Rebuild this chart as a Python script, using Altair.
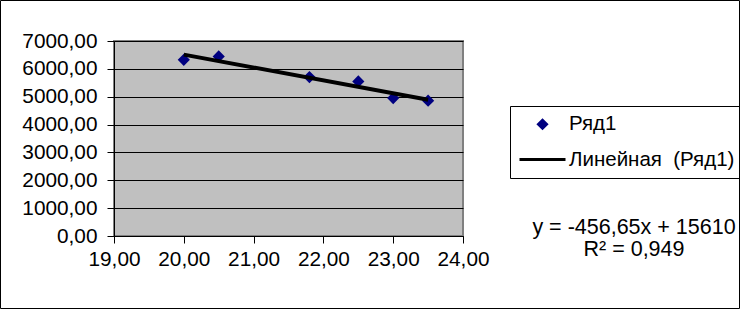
import altair as alt
import pandas as pd

# ---- data ----
x_vals = [20.00, 20.50, 21.80, 22.50, 23.00, 23.50]
y_vals = [6326, 6444, 5706, 5548, 4953, 4857]
series_point = "Ряд1"
series_trend = "Линейная\u00a0 (Ряд1)"
x_ticks = [19, 20, 21, 22, 23, 24]
y_ticks = [0, 1000, 2000, 3000, 4000, 5000, 6000, 7000]
equation_lines = ["y = -456,65x + 15610", "R² = 0,949"]

FONT = "Liberation Sans"
W, H = 349, 195
PAD_L, PAD_T = 114, 41

df = pd.DataFrame({"x": x_vals, "y": y_vals, "series": [series_point] * len(x_vals)})
domain = [series_point, series_trend]

xscale = alt.Scale(domain=[19, 24], nice=False, zero=False)
yscale = alt.Scale(domain=[0, 7000], nice=False)

lab = "replace(format(datum.value, '.2f'), '.', ',')"

xaxis = alt.Axis(values=x_ticks, labelExpr=lab, title=None, grid=False, labelOverlap=False,
                 labelFlush=False, tickSize=7, labelPadding=6,
                 domainColor="black", tickColor="black")
yaxis = alt.Axis(values=y_ticks, labelExpr=lab, title=None, grid=True, labelOverlap=False,
                 labelFlush=False, gridColor="black", gridWidth=1, tickSize=7, labelPadding=10,
                 domainColor="black", tickColor="black")

legend = alt.Legend(title=None, orient="none", legendX=396, legendY=65,
                    strokeColor="black", padding=8, labelFontSize=20.5, labelLimit=400,
                    labelFont=FONT, labelColor="black", labelOffset=2,
                    symbolStrokeWidth=3, rowPadding=-2, symbolOpacity=1)

points = alt.Chart(df).mark_point(filled=True, strokeWidth=3, opacity=1).encode(
    x=alt.X("x:Q", scale=xscale, axis=xaxis),
    y=alt.Y("y:Q", scale=yscale, axis=yaxis),
    fill=alt.Fill("series:N", scale=alt.Scale(domain=domain, range=["#000080", "black"]), legend=legend),
    stroke=alt.Stroke("series:N", scale=alt.Scale(domain=domain, range=["#000080", "black"]), legend=legend),
    shape=alt.Shape("series:N", scale=alt.Scale(domain=domain, range=["diamond", "stroke"]), legend=legend),
    size=alt.Size("series:N", scale=alt.Scale(type="ordinal", domain=domain, range=[64, 2116]), legend=legend),
)

trend = alt.Chart(df).transform_regression("x", "y").mark_line(
    color="black", strokeWidth=4
).encode(
    x=alt.X("x:Q", scale=xscale, axis=xaxis),
    y=alt.Y("y:Q", scale=yscale, axis=yaxis),
)

frame = alt.Chart(pd.DataFrame({"a": [0]})).mark_rect(
    fill=None, stroke="black", strokeWidth=1
).encode(
    x=alt.value(-PAD_L + 0.5), x2=alt.value(740 - PAD_L - 0.5),
    y=alt.value(-PAD_T + 0.5), y2=alt.value(309 - PAD_T - 0.5),
)

eq = alt.Chart(pd.DataFrame({"t": ["\n".join(equation_lines)]})).mark_text(
    align="center", baseline="alphabetic", fontSize=21.5, font=FONT, color="black",
    lineBreak="\n", lineHeight=22
).encode(text="t:N", x=alt.value(634 - PAD_L), y=alt.value(234 - PAD_T))

chart = alt.layer(frame, points, trend, eq).properties(
    width=W, height=H,
    padding={"left": PAD_L, "top": PAD_T, "right": 740 - PAD_L - W, "bottom": 309 - PAD_T - H},
    autosize=alt.AutoSizeParams(type="none"),
    background="white",
).configure_view(
    fill="#C0C0C0", stroke="#808080", strokeWidth=2
).configure_axis(
    labelFont=FONT, labelFontSize=20.8, labelColor="black", domainWidth=1, tickWidth=1
)

chart.save("out.html", embed_options={"renderer": "svg", "actions": False})
